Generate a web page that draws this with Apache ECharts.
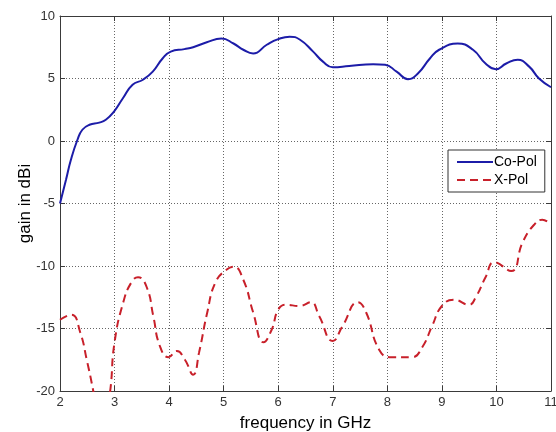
<!DOCTYPE html>
<html>
<head>
<meta charset="utf-8">
<script src="https://cdn.jsdelivr.net/npm/echarts@6/dist/echarts.min.js"></script>
<style>html,body{margin:0;padding:0;background:#fff;}#c{width:556px;height:432px;}</style>
</head>
<body>
<div id="c"></div>
<script>
var coFreq = [2.0,2.11,2.2,2.32,2.41,2.54,2.72,2.84,2.99,3.15,3.33,3.52,3.7,3.88,4.03,4.28,4.44,4.69,4.96,5.18,5.36,5.54,5.79,6.0,6.21,6.4,6.64,6.82,7.0,7.3,7.74,7.96,8.17,8.38,8.56,8.78,8.95,9.29,9.57,9.8,9.99,10.18,10.39,10.6,10.78,11.0];
var coGain = [-5.0,-3.1,-1.5,0.1,0.9,1.3,1.47,1.7,2.35,3.4,4.5,4.9,5.55,6.6,7.15,7.35,7.5,7.9,8.2,7.8,7.3,7.0,7.7,8.15,8.35,8.1,7.15,6.35,5.9,6.0,6.15,6.1,5.55,4.95,5.4,6.6,7.3,7.8,7.3,6.2,5.75,6.2,6.5,5.95,5.0,4.3];
var xFreq = [2.0,2.21,2.37,2.49,2.61,2.78,2.92,3.0,3.16,3.31,3.43,3.59,3.71,3.83,3.99,4.14,4.29,4.44,4.55,4.7,4.85,5.05,5.18,5.36,5.54,5.73,5.88,6.0,6.14,6.39,6.6,6.75,7.0,7.18,7.46,7.61,7.85,8.07,8.45,8.64,8.82,9.0,9.22,9.5,9.62,9.8,9.96,10.27,10.48,10.69,10.84,11.0];
var xGain = [-14.3,-13.9,-15.3,-17.5,-20.0,-24.0,-20.0,-16.1,-12.9,-11.3,-10.9,-11.7,-14.0,-16.4,-17.3,-16.8,-17.5,-18.7,-16.9,-13.7,-11.3,-10.3,-10.05,-11.1,-13.7,-16.1,-15.1,-13.5,-13.1,-13.2,-12.9,-14.0,-16.0,-14.8,-12.9,-13.7,-16.7,-17.3,-17.3,-16.5,-14.8,-13.2,-12.7,-13.1,-12.5,-10.9,-9.7,-10.4,-8.1,-6.7,-6.3,-6.7];
var seriesNames = ['Co-Pol','X-Pol'];
var xTitle = 'frequency in GHz';
var yTitle = 'gain in dBi';

function pairs(xs, ys){ return xs.map(function(x,i){ return [x, ys[i]]; }); }

var font = 'Liberation Sans, Arial, sans-serif';
var axisLineStyle = {color:'#3a3a3a', width:1};
var chart = echarts.init(document.getElementById('c'), null, {renderer:'canvas'});
chart.setOption({
  animation:false,
  backgroundColor:'#fff',
  grid:{left:60, right:5, top:16, bottom:41, containLabel:false, outerBoundsMode:'none'},
  legend:{
    orient:'vertical', left:448, top:150,
    data:seriesNames,
    backgroundColor:'#fff', borderColor:'#333', borderWidth:1, borderRadius:0,
    padding:[5,8,5,8], itemGap:4, itemWidth:36, itemHeight:14,
    itemStyle:{opacity:0},
    textStyle:{fontFamily:font, fontSize:14, color:'#000', padding:[0,0,0,-4]}
  },
  xAxis:[{
    type:'value', min:2, max:11, interval:1,
    name:xTitle, nameLocation:'middle', nameGap:24, nameMoveOverlap:false,
    nameTextStyle:{fontFamily:font, fontSize:17, color:'#000'},
    axisLine:{show:true, onZero:false, lineStyle:axisLineStyle},
    axisTick:{show:true, inside:true, length:5, lineStyle:axisLineStyle},
    axisLabel:{fontFamily:font, fontSize:13, color:'#333', margin:5},
    splitLine:{show:true, lineStyle:{color:'#666', width:1, type:[1,2]}}
  },{
    type:'value', min:2, max:11, interval:1, position:'top',
    axisLine:{show:true, onZero:false, lineStyle:axisLineStyle},
    axisTick:{show:true, inside:true, length:5, lineStyle:axisLineStyle},
    axisLabel:{show:false}, splitLine:{show:false}
  }],
  yAxis:[{
    type:'value', min:-20, max:10, interval:5,
    name:yTitle, nameLocation:'middle', nameGap:26, nameMoveOverlap:false,
    nameTextStyle:{fontFamily:font, fontSize:17, color:'#000'},
    axisLine:{show:true, onZero:false, lineStyle:axisLineStyle},
    axisTick:{show:true, inside:true, length:5, lineStyle:axisLineStyle},
    axisLabel:{fontFamily:font, fontSize:13, color:'#333', margin:5},
    splitLine:{show:true, lineStyle:{color:'#666', width:1, type:[1,2]}}
  },{
    type:'value', min:-20, max:10, interval:5, position:'right',
    axisLine:{show:true, onZero:false, lineStyle:axisLineStyle},
    axisTick:{show:true, inside:true, length:5, lineStyle:axisLineStyle},
    axisLabel:{show:false}, splitLine:{show:false}
  }],
  series:[{
    name:seriesNames[0], type:'line', xAxisIndex:0, yAxisIndex:0,
    data:pairs(coFreq, coGain), smooth:0.5, symbol:'none', clip:true,
    lineStyle:{color:'#1c1ca8', width:2}, itemStyle:{color:'#1c1ca8'}
  },{
    name:seriesNames[1], type:'line', xAxisIndex:0, yAxisIndex:0,
    data:pairs(xFreq, xGain), smooth:0.5, symbol:'none', clip:true,
    lineStyle:{color:'#c8202a', width:2, type:[8,5]}, itemStyle:{color:'#c8202a'}
  }]
});
</script>
</body>
</html>
